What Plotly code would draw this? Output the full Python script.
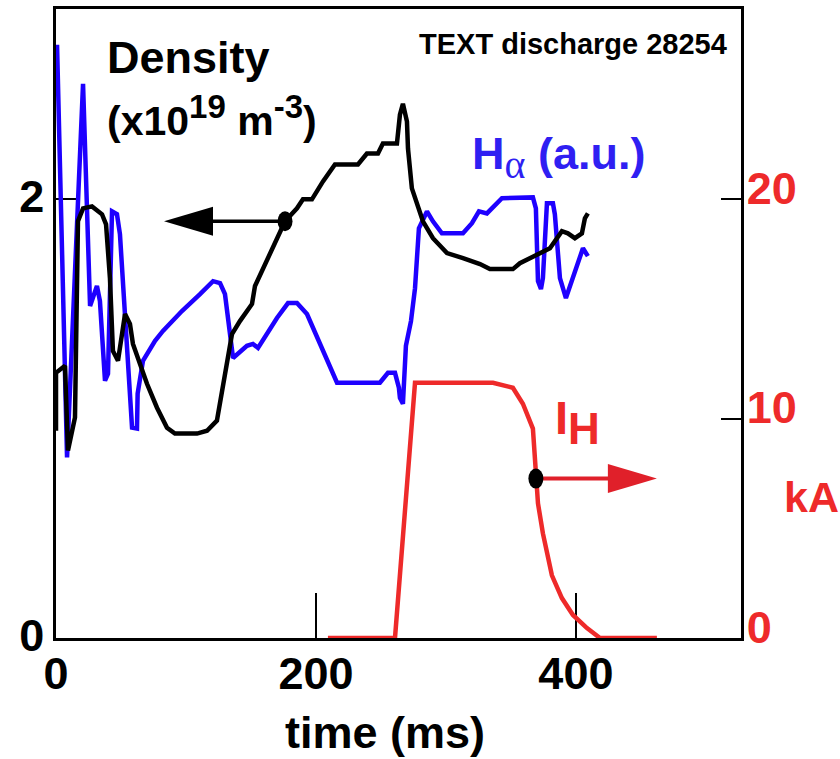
import plotly.graph_objects as go

# Time base (ms) and signals of TEXT discharge 28254
t_density = [0, 0, 6.9, 9.2, 14.6, 16.9, 20.8, 27.7, 35.4, 38.5, 41.5, 43.8, 47.7,
             53.1, 56.9, 59.2, 70.0, 77.7, 85.4, 91.5, 108.5, 116.2, 123.8, 127.7,
             131.5, 135.4, 141.5, 150.8, 153.1, 159.2, 166.9, 176.2, 185.4, 190.0,
             196.9, 205.4, 214.6, 232.3, 239.2, 247.7, 251.5, 262.3, 264.6, 266.9,
             270.0, 270.8, 273.8, 277.7, 282.3, 290.0, 300.8, 313.1, 326.2, 333.8,
             351.5, 356.9, 380.0, 389.2, 393.8, 399.2, 404.6, 406.9, 409.2]
density = [0.945, 1.209, 1.241, 0.855, 1.005, 1.900, 1.959, 1.968, 1.932, 1.886,
           1.641, 1.309, 1.264, 1.477, 1.432, 1.341, 1.159, 1.050, 0.959, 0.932,
           0.932, 0.945, 0.991, 1.127, 1.264, 1.386, 1.445, 1.523, 1.605, 1.686,
           1.777, 1.900, 1.959, 2.000, 2.000, 2.082, 2.159, 2.159, 2.209, 2.209,
           2.255, 2.255, 2.386, 2.436, 2.355, 2.232, 2.050, 1.977, 1.900, 1.823,
           1.755, 1.732, 1.705, 1.682, 1.682, 1.709, 1.777, 1.855, 1.845, 1.823,
           1.845, 1.914, 1.936]
DENSITY_MARK = 31  # sample where the arrow to the left axis starts

t_halpha = [0.8, 8.5, 20.8, 26.2, 31.5, 33.8, 37.7, 40.0, 43.1, 46.9, 49.2, 58.5,
            62.3, 62.8, 66.9, 76.2, 82.3, 96.9, 110.8, 120.8, 126.2, 130.0, 136.2,
            146.9, 151.5, 155.4, 170.0, 178.5, 185.4, 193.1, 216.2, 249.2, 255.4,
            260.8, 263.8, 264.6, 266.9, 269.2, 273.1, 276.2, 279.2, 285.4, 290.0,
            296.9, 313.1, 320.0, 325.4, 331.5, 343.1, 366.9, 369.2, 370.8, 373.1,
            374.6, 377.7, 382.3, 383.8, 387.7, 392.3, 405.4, 409.2]
halpha = [2.705, 0.823, 2.527, 1.514, 1.605, 1.536, 1.173, 1.205, 1.945, 1.932,
          1.841, 0.959, 0.955, 1.114, 1.264, 1.355, 1.400, 1.491, 1.568, 1.627,
          1.618, 1.568, 1.277, 1.332, 1.341, 1.323, 1.459, 1.527, 1.527, 1.477,
          1.164, 1.164, 1.209, 1.209, 1.141, 1.095, 1.068, 1.332, 1.445, 1.595,
          1.868, 1.945, 1.900, 1.845, 1.845, 1.891, 1.945, 1.936, 2.005, 2.009,
          1.959, 1.627, 1.591, 1.641, 1.982, 1.982, 1.932, 1.641, 1.550, 1.777,
          1.741]

t_ih = [209.2, 260.8, 276.2, 336.2, 351.5, 359.2, 366.9, 369.2, 370.8, 374.6,
        381.5, 389.2, 397.7, 408.5, 418.5, 462.3]
ih_ka = [0, 0, 11.64, 11.64, 11.41, 10.68, 9.55, 7.27, 6.14, 4.77, 2.86, 1.82,
         1.05, 0.45, 0, 0]
IH_MARK = 7  # sample where the arrow to the right axis starts

x_ticks = [0, 200, 400]
left_ticks = [0, 2]
right_ticks = [0, 10, 20]

BLUE = "#1e00ff"
BLUE_TEXT = "#2f1ff2"
RED = "#ee2a2a"
RED_ARROW = "#e0202a"
FONT = "Liberation Sans, Arial, Helvetica, sans-serif"

W, H = 840, 759
L, R, T, B = 56, 741, 6, 638  # plot-area edges in pixels


def px_x(px):
    return (px - L) / (R - L)


def px_y(py):
    return (B - py) / (B - T)


fig = go.Figure()
fig.add_trace(go.Scatter(x=t_halpha, y=halpha, mode="lines", yaxis="y",
                         line=dict(color=BLUE, width=4.5), cliponaxis=False,
                         hoverinfo="skip"))
fig.add_trace(go.Scatter(x=t_density, y=density, mode="lines", yaxis="y",
                         line=dict(color="black", width=4.5), cliponaxis=False,
                         hoverinfo="skip"))
fig.add_trace(go.Scatter(x=t_ih, y=ih_ka, mode="lines", yaxis="y2",
                         line=dict(color=RED, width=4.5), cliponaxis=False,
                         hoverinfo="skip"))

tick_font = dict(family=FONT, size=45, color="black", weight="bold")

fig.update_layout(
    width=W, height=H,
    margin=dict(l=L, r=W - R, t=T, b=H - B),
    paper_bgcolor="white", plot_bgcolor="white",
    showlegend=False,
    xaxis=dict(range=[0, 527], tickvals=x_ticks, ticks="inside", ticklen=45,
               tickwidth=2, tickcolor="black", showline=True, linecolor="black",
               linewidth=2.5, mirror=True, showgrid=False, zeroline=False,
               tickfont=tick_font, ticklabelstandoff=-6, layer="below traces"),
    yaxis=dict(range=[0, 2.868], tickvals=left_ticks, ticks="inside", ticklen=20,
               tickwidth=2, tickcolor="black", showline=True, linecolor="black",
               linewidth=2.5, mirror=True, showgrid=False, zeroline=False,
               tickfont=tick_font, ticklabelstandoff=0, ticklabelshift=-3,
               layer="below traces"),
    yaxis2=dict(range=[0, 28.68], tickvals=right_ticks, ticks="inside", ticklen=20,
                tickwidth=2, tickcolor="black", showline=True, linecolor="black",
                linewidth=2.5, side="right", overlaying="y", showgrid=False,
                zeroline=False, tickfont=dict(tick_font, color=RED),
                ticklabelstandoff=-6, ticklabelshift=-11, layer="below traces"),
)


def label(text, px, py, size, color="black", xanchor="left"):
    fig.add_annotation(text=text, xref="paper", yref="paper",
                       x=px_x(px), y=px_y(py), xanchor=xanchor, yanchor="middle",
                       showarrow=False,
                       font=dict(family=FONT, size=size, color=color, weight="bold"))


sup = "<sup><span style='font-size:33px'>{}</span></sup>"
label("Density", 105, 55, 45)
label("(x10" + sup.format("19") + " m" + sup.format("-3") + ")", 105, 114, 41)
label("TEXT discharge 28254", 729, 41, 29, xanchor="right")
label("H<sub><span style='font-family:Liberation Serif;font-weight:normal;"
      "font-size:40px'>α</span></sub> (a.u.)", 470, 155, 45, color=BLUE_TEXT)
label("I<sub><span style='font-size:44px'>H</span></sub>", 553, 421, 47, color=RED)
label("kA", 782, 496, 43, color=RED)
label("time (ms)", 385, 733, 45, xanchor="center")


def arrow(xa, ya, yref, direction, color, width):
    """Line plus filled head, anchored on a curve sample, sized in pixels."""
    s = direction
    fig.add_shape(type="line", xref="x", yref=yref, xsizemode="pixel",
                  ysizemode="pixel", xanchor=xa, yanchor=ya,
                  x0=0, x1=s * 80, y0=0, y1=0,
                  line=dict(color=color, width=width))
    fig.add_shape(type="path", xref="x", yref=yref, xsizemode="pixel",
                  ysizemode="pixel", xanchor=xa, yanchor=ya,
                  path=f"M{s * 121},0 L{s * 72},14.5 L{s * 72},-14.5 Z",
                  fillcolor=color, line=dict(width=0))
    fig.add_shape(type="circle", xref="x", yref=yref, xsizemode="pixel",
                  ysizemode="pixel", xanchor=xa, yanchor=ya,
                  x0=-7.5, x1=7.5, y0=-10, y1=10,
                  fillcolor="black", line=dict(width=0))


arrow(t_density[DENSITY_MARK], density[DENSITY_MARK], "y", -1, "black", 3.5)
arrow(t_ih[IH_MARK], ih_ka[IH_MARK], "y2", 1, RED_ARROW, 4)

fig.write_html("out.html")
